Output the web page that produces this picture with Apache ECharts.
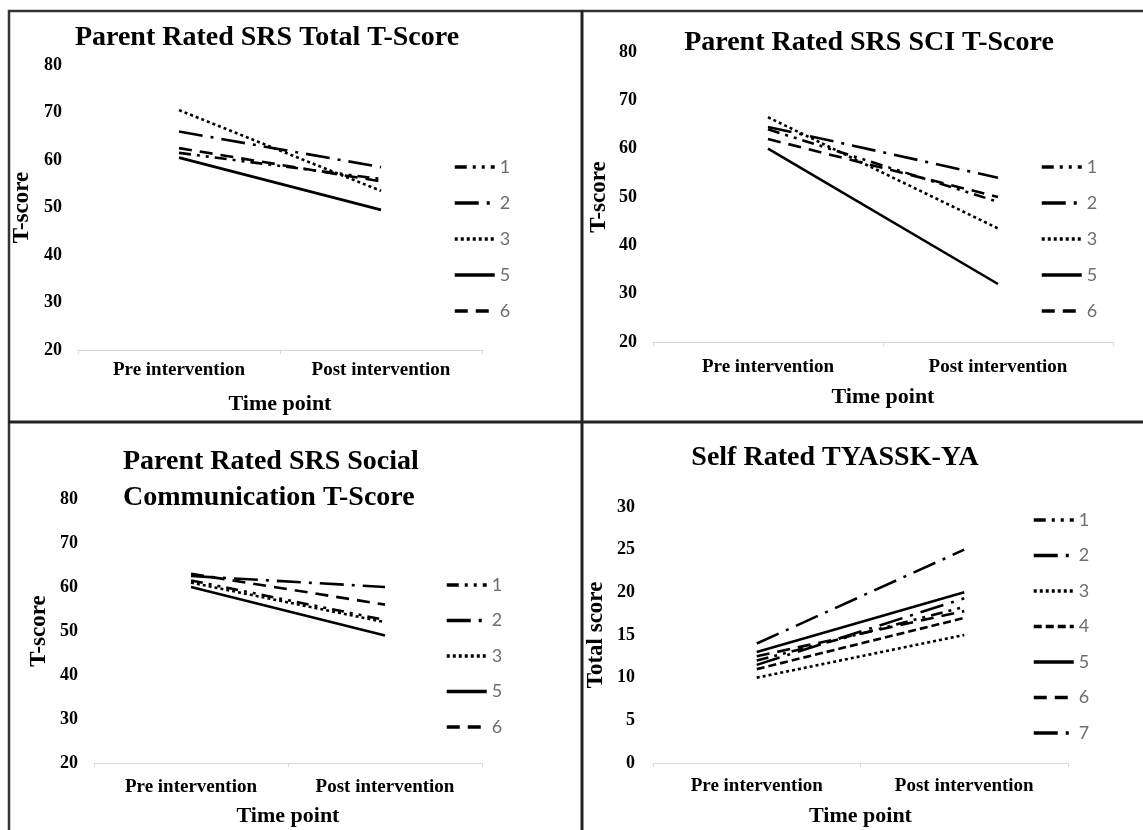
<!DOCTYPE html>
<html>
<head>
<meta charset="utf-8">
<title>SRS and TYASSK-YA scores</title>
<script src="https://cdn.jsdelivr.net/npm/echarts@6.0.0/dist/echarts.min.js"></script>
<style>
  html, body { margin: 0; padding: 0; background: #fff; }
  #chart { width: 1143px; height: 830px; }
</style>
</head>
<body>
<div id="chart"></div>
<script>
const categories = ['Pre intervention', 'Post intervention'];
const tScoreTicks = [20, 30, 40, 50, 60, 70, 80];
const totalScoreTicks = [0, 5, 10, 15, 20, 25, 30];

// Parent Rated SRS Total T-Score
const totalIds = ['1', '2', '3', '5', '6'];
const totalPre = [61.5, 66, 70.5, 60.5, 62.5];
const totalPost = [56, 58.5, 53.5, 49.5, 55.5];

// Parent Rated SRS SCI T-Score
const sciIds = ['1', '2', '3', '5', '6'];
const sciPre = [64, 64.5, 66.5, 60, 62];
const sciPost = [49, 54, 43.5, 32, 50];

// Parent Rated SRS Social Communication T-Score
const socialIds = ['1', '2', '3', '5', '6'];
const socialPre = [61.5, 62.5, 61, 60, 63];
const socialPost = [52.5, 60, 52, 49, 56];

// Self Rated TYASSK-YA
const selfIds = ['1', '2', '3', '4', '5', '6', '7'];
const selfPre = [12, 14, 10, 11, 13, 12.5, 11.5];
const selfPost = [18.3, 25, 15, 17, 20, 17.8, 19.3];

// line look per participant (excel style dashes)
const dashes = {
    '1': [12, 6, 3, 6, 3, 6],
    '2': [24, 8, 3, 8],
    '3': [3, 3],
    '4': [8, 4],
    '5': 'solid',
    '6': [13, 8],
    '7': [24, 8, 3, 8]
};

const serif = 'Liberation Serif';
const chart = echarts.init(document.getElementById('chart'));

function buildSeries(idx, ids, pre, post) {
    return ids.map((id, i) => ({
        type: 'line',
        name: id,
        xAxisIndex: idx,
        yAxisIndex: idx,
        data: [pre[i], post[i]],
        symbol: 'none',
        silent: true,
        lineStyle: { color: '#000', width: 2.6, type: dashes[id] }
    }));
}

function xAxisFor(idx, labelMargin, nameGap) {
    return {
        type: 'category',
        gridIndex: idx,
        data: categories,
        axisLine: { lineStyle: { color: '#d9d9d9', width: 1 } },
        axisTick: { show: true, length: 4, lineStyle: { color: '#d9d9d9' } },
        axisLabel: { fontFamily: serif, fontWeight: 'bold', fontSize: 19, color: '#000', margin: labelMargin },
        name: 'Time point',
        nameLocation: 'middle',
        nameGap: nameGap,
        nameTextStyle: { fontFamily: serif, fontWeight: 'bold', fontSize: 22, color: '#000' }
    };
}

function yAxisFor(idx, ticks, name, labelMargin, nameGap) {
    return {
        type: 'value',
        gridIndex: idx,
        min: ticks[0],
        max: ticks[ticks.length - 1],
        interval: ticks[1] - ticks[0],
        axisLine: { show: false },
        axisTick: { show: false },
        splitLine: { show: false },
        axisLabel: { fontFamily: serif, fontWeight: 'bold', fontSize: 18, color: '#000', margin: labelMargin },
        name: name,
        nameLocation: 'middle',
        nameRotate: 90,
        nameGap: nameGap,
        nameTextStyle: { fontFamily: serif, fontWeight: 'bold', fontSize: 23, color: '#000' }
    };
}

function legendFor(ids, left, top, gap) {
    return {
        data: ids,
        orient: 'vertical',
        left: left,
        top: top,
        padding: 0,
        itemWidth: 40,
        itemHeight: 14,
        itemGap: gap,
        selectedMode: false,
        itemStyle: { opacity: 0 },
        lineStyle: { width: 3.5 },
        textStyle: { fontFamily: 'Lato', fontSize: 18, color: '#6e6e6e' }
    };
}

const titleStyle = { fontFamily: serif, fontWeight: 'bold', fontSize: 28, color: '#000', lineHeight: 36 };

const option = {
    animation: false,
    backgroundColor: '#fff',
    title: [
        { text: 'Parent Rated SRS Total T-Score', left: 267, top: 38, padding: 0, textAlign: 'center', textVerticalAlign: 'middle', textStyle: titleStyle },
        { text: 'Parent Rated SRS SCI T-Score', left: 869, top: 43, padding: 0, textAlign: 'center', textVerticalAlign: 'middle', textStyle: titleStyle },
        { text: 'Parent Rated SRS Social\nCommunication T-Score', left: 123, top: 444, padding: 0, textAlign: 'left', textVerticalAlign: 'top', textStyle: titleStyle },
        { text: 'Self Rated TYASSK-YA', left: 835, top: 458, padding: 0, textAlign: 'center', textVerticalAlign: 'middle', textStyle: titleStyle }
    ],
    legend: [
        legendFor(totalIds, 453, 158, 18),
        legendFor(sciIds, 1040, 158, 18),
        legendFor(socialIds, 445, 576, 17.5),
        legendFor(selfIds, 1032, 511, 17.5)
    ],
    grid: [
        { left: 78, top: 65, width: 404, height: 285, outerBoundsMode: 'none' },
        { left: 653, top: 52, width: 460, height: 290, outerBoundsMode: 'none' },
        { left: 94, top: 499, width: 388, height: 264, outerBoundsMode: 'none' },
        { left: 653, top: 507, width: 415, height: 256, outerBoundsMode: 'none' }
    ],
    xAxis: [
        xAxisFor(0, 11, 43),
        xAxisFor(1, 16, 44),
        xAxisFor(2, 15, 42),
        xAxisFor(3, 14, 42)
    ],
    yAxis: [
        yAxisFor(0, tScoreTicks, 'T-score', 16, 44),
        yAxisFor(1, tScoreTicks, 'T-score', 16, 42),
        yAxisFor(2, tScoreTicks, 'T-score', 16, 43),
        yAxisFor(3, totalScoreTicks, 'Total score', 18, 45)
    ],
    series: [].concat(
        buildSeries(0, totalIds, totalPre, totalPost),
        buildSeries(1, sciIds, sciPre, sciPost),
        buildSeries(2, socialIds, socialPre, socialPost),
        buildSeries(3, selfIds, selfPre, selfPost)
    ),
    // panel frame lines
    graphic: [
        { type: 'line', silent: true, shape: { x1: 8, y1: 11, x2: 1143, y2: 11 }, style: { stroke: '#333', lineWidth: 2.5 } },
        { type: 'line', silent: true, shape: { x1: 9, y1: 10, x2: 9, y2: 830 }, style: { stroke: '#333', lineWidth: 2.5 } },
        { type: 'line', silent: true, shape: { x1: 582, y1: 10, x2: 582, y2: 830 }, style: { stroke: '#222', lineWidth: 3 } },
        { type: 'line', silent: true, shape: { x1: 8, y1: 422, x2: 1143, y2: 422 }, style: { stroke: '#222', lineWidth: 3 } }
    ]
};

chart.setOption(option);
</script>
</body>
</html>
